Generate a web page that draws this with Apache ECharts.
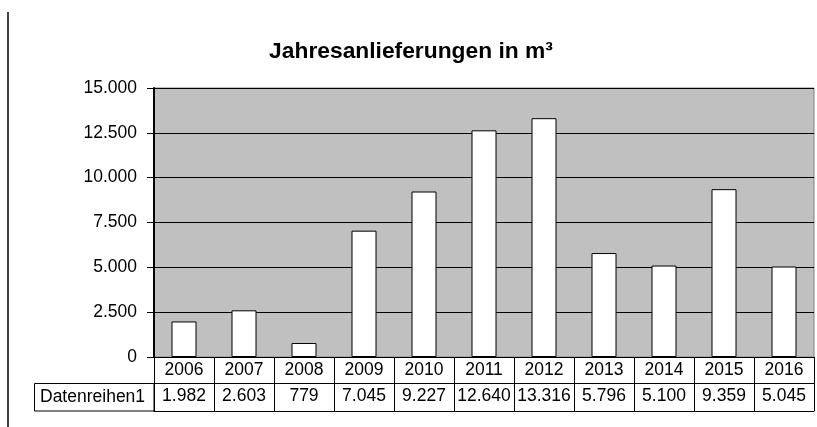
<!DOCTYPE html>
<html>
<head>
<meta charset="utf-8">
<script src="https://cdn.jsdelivr.net/npm/echarts@6/dist/echarts.min.js"></script>
<style>
  html, body { margin: 0; padding: 0; background: #fff; }
  #main { width: 817px; height: 427px; }
</style>
</head>
<body>
<div id="main"></div>
<script>
const years = ['2006', '2007', '2008', '2009', '2010', '2011', '2012', '2013', '2014', '2015', '2016'];
const deliveries = [1982, 2603, 779, 7045, 9227, 12640, 13316, 5796, 5100, 9359, 5045];
const seriesName = 'Datenreihen1';
const titleText = 'Jahresanlieferungen in m³';

const font = 'Liberation Sans, Arial, sans-serif';

// 12500 -> "12.500"
const fmt = v => String(v).replace(/\B(?=(\d{3})+(?!\d))/g, '.');

const myChart = echarts.init(document.getElementById('main'));

myChart.setOption({
  animation: false,
  title: {
    text: titleText,
    left: 406,
    textAlign: 'center',
    top: 35,
    textStyle: { fontFamily: font, fontSize: 22.8, fontWeight: 'bold', color: '#000' }
  },
  grid: {
    left: 154,
    top: 88,
    width: 660,
    height: 269,
    show: true,
    backgroundColor: '#c0c0c0',
    borderColor: '#808080',
    borderWidth: 1
  },
  xAxis: [
    {
      type: 'category',
      data: years,
      axisLine: { lineStyle: { color: '#000', width: 1 } },
      axisTick: { show: true, interval: 0, length: 54, lineStyle: { color: '#000' } },
      axisLabel: { interval: 0, margin: 5, fontFamily: font, fontSize: 17.5, lineHeight: 17, color: '#000' }
    },
    {
      type: 'category',
      data: deliveries.map(fmt),
      position: 'bottom',
      offset: 26,
      axisLine: { show: true, lineStyle: { color: '#000', width: 1 } },
      axisTick: { show: false },
      axisLabel: { interval: 0, margin: 5, fontFamily: font, fontSize: 17.5, lineHeight: 17, color: '#000' }
    },
    {
      type: 'category',
      data: years,
      position: 'bottom',
      offset: 54,
      axisLine: { show: true, lineStyle: { color: '#000', width: 1 } },
      axisTick: { show: false },
      axisLabel: { show: false }
    }
  ],
  yAxis: {
    type: 'value',
    min: 0,
    max: 15000,
    interval: 2500,
    axisLine: { show: true, lineStyle: { color: '#000', width: 2 } },
    axisTick: { show: true, length: 7, lineStyle: { color: '#000' } },
    axisLabel: { margin: 17, fontFamily: font, fontSize: 17.5, color: '#000', formatter: fmt },
    splitLine: { show: true, lineStyle: { color: '#000', width: 1 } }
  },
  series: [
    {
      name: seriesName,
      type: 'bar',
      xAxisIndex: 0,
      barWidth: 25,
      itemStyle: { color: '#fff', borderColor: '#000', borderWidth: 1 },
      data: deliveries
    }
  ],
  graphic: [
    {
      type: 'line',
      shape: { x1: 8, y1: 12, x2: 8, y2: 427 },
      style: { stroke: '#000', lineWidth: 1.5 }
    },
    {
      type: 'rect',
      shape: { x: 34.5, y: 383.5, width: 119.5, height: 27.5 },
      style: { fill: '#fff', stroke: '#000', lineWidth: 1 }
    },
    {
      type: 'text',
      x: 40,
      y: 397.5,
      style: {
        text: seriesName,
        font: '17.5px ' + font,
        fill: '#000',
        verticalAlign: 'middle'
      }
    }
  ]
});
</script>
</body>
</html>
